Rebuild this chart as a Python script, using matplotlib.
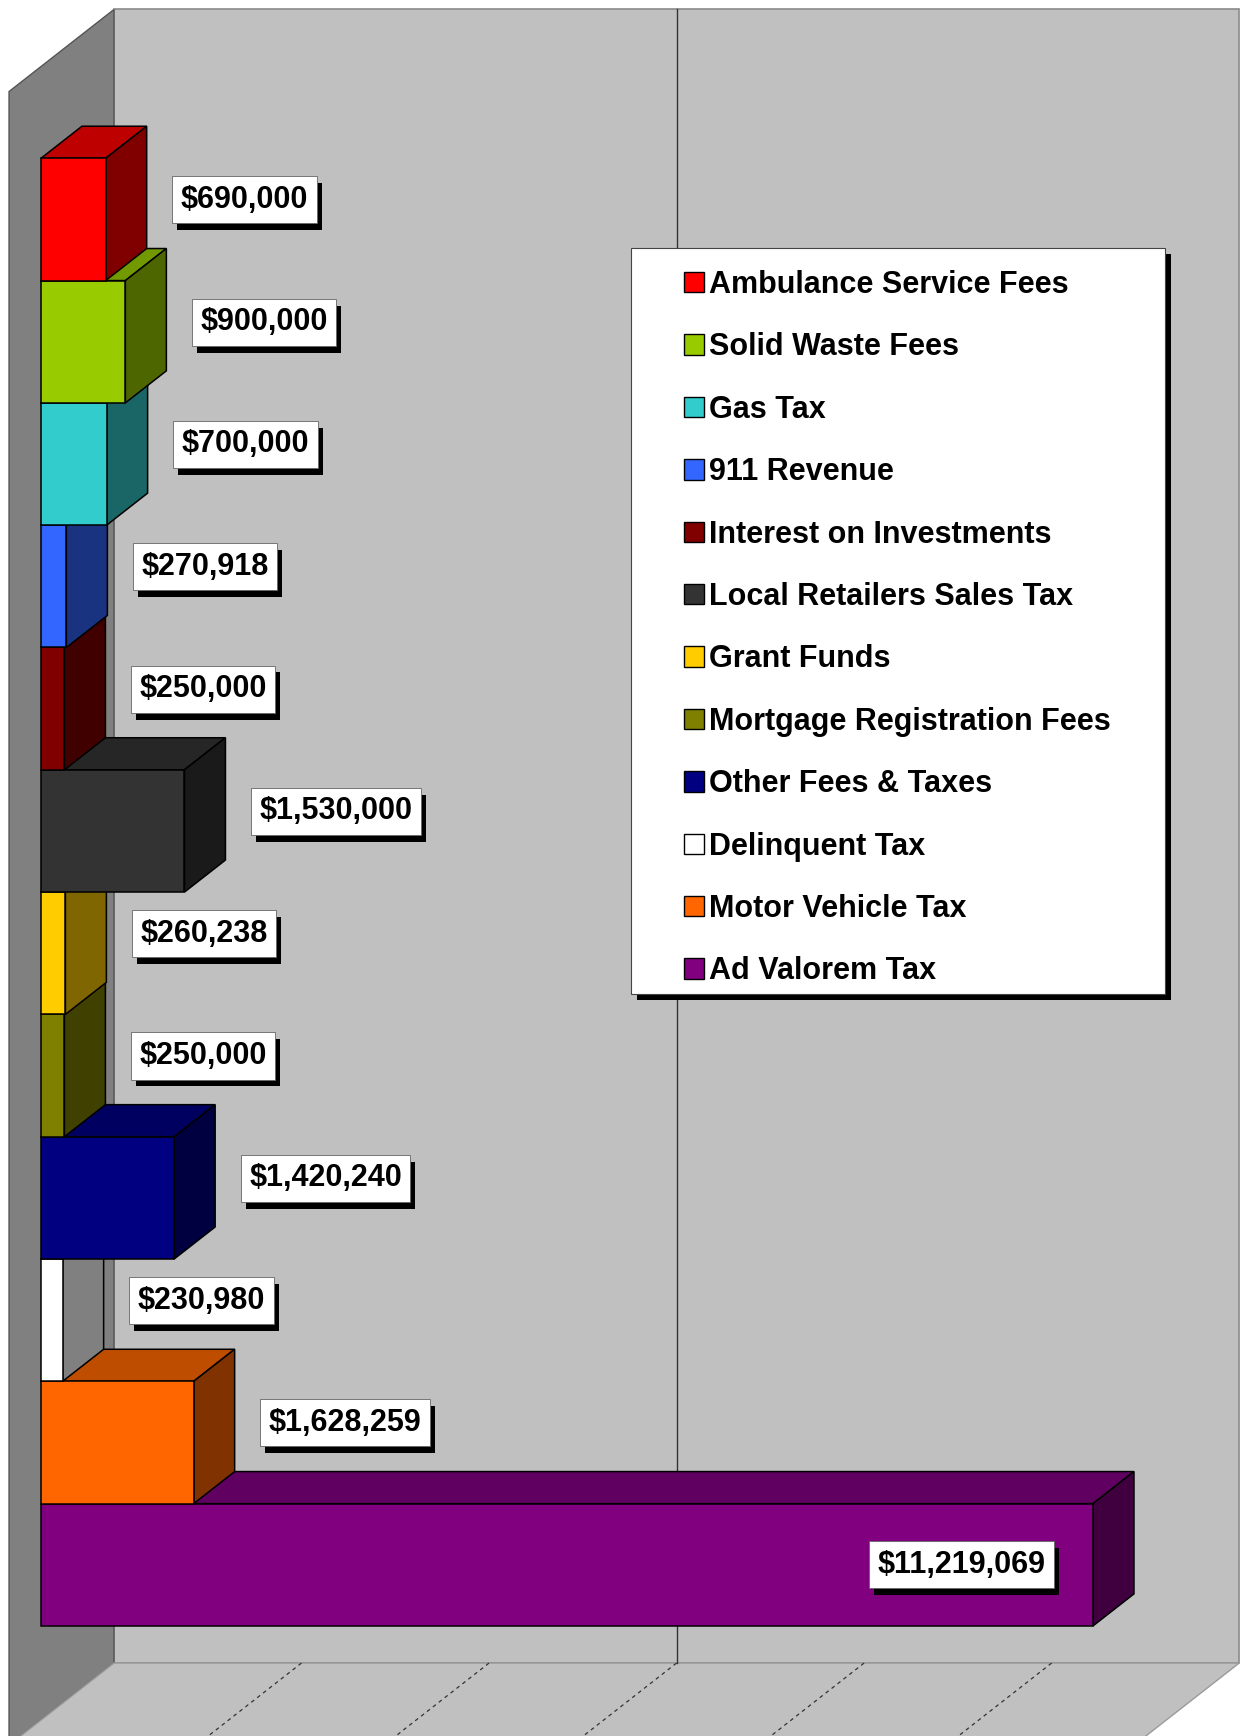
import numpy as np
import matplotlib.pyplot as plt
from matplotlib.colors import to_rgb
from matplotlib.patches import Polygon, Rectangle, Patch
from matplotlib import patheffects


# revenue sources, top to bottom
categories = [
    'Ambulance Service Fees',
    'Solid Waste Fees',
    'Gas Tax',
    '911 Revenue',
    'Interest on Investments',
    'Local Retailers Sales Tax',
    'Grant Funds',
    'Mortgage Registration Fees',
    'Other Fees & Taxes',
    'Delinquent Tax',
    'Motor Vehicle Tax',
    'Ad Valorem Tax',
]
values = [690000, 900000, 700000, 270918, 250000, 1530000,
          260238, 250000, 1420240, 230980, 1628259, 11219069]
bar_colors = ['#FF0000', '#99CC00', '#33CCCC', '#3366FF', '#800000', '#333333',
              '#FFCC00', '#808000', '#000080', '#FFFFFF', '#FF6600', '#800080']

X_MAX = 12000000
wall_grid = [6000000]
floor_grid = [2000000, 4000000, 6000000, 8000000, 10000000]

# fake 3d: a bar's depth moves it right (in dollars) and up (in category units)
DEPTH_X = 437000
DEPTH_Y = -0.262
D_BACK = 1.78     # back wall depth (bar depth = 1)
D_FRONT = -0.78   # front edge of floor / side wall
Y_TOP = -1.25
Y_FLOOR = 12.27

FONT = 'Liberation Sans'


def proj(v, y, d):
    return (v + d * DEPTH_X, y + d * DEPTH_Y)


def shade(color, k):
    r, g, b = to_rgb(color)
    return (r * k, g * k, b * k)


def main():
    fig = plt.figure(figsize=(12.41, 17.36), dpi=100)
    ax = fig.add_axes([0, 0, 1, 1])
    ax.set_xlim(-437250, 12797500)
    ax.set_ylim(12.40, -1.794)
    ax.axis('off')

    # walls and floor
    back = [proj(0, Y_TOP, D_BACK), proj(X_MAX, Y_TOP, D_BACK),
            proj(X_MAX, Y_FLOOR, D_BACK), proj(0, Y_FLOOR, D_BACK)]
    side = [proj(0, Y_TOP, D_FRONT), proj(0, Y_TOP, D_BACK),
            proj(0, Y_FLOOR, D_BACK), proj(0, Y_FLOOR, D_FRONT)]
    floor = [proj(0, Y_FLOOR, D_BACK), proj(X_MAX, Y_FLOOR, D_BACK),
             proj(X_MAX, Y_FLOOR, D_FRONT), proj(0, Y_FLOOR, D_FRONT)]
    ax.add_patch(Polygon(back, closed=True, fc='#C0C0C0', ec='#8a8a8a', lw=1.2, zorder=1))
    ax.add_patch(Polygon(side, closed=True, fc='#808080', ec='#555555', lw=1.0, zorder=1))
    ax.add_patch(Polygon(floor, closed=True, fc='#C0C0C0', ec='#9a9a9a', lw=1.0, zorder=1))

    for v in wall_grid:
        (x0, y0), (x1, y1) = proj(v, Y_TOP, D_BACK), proj(v, Y_FLOOR, D_BACK)
        ax.plot([x0, x1], [y0, y1], color='#333333', lw=1.0, zorder=2)
    for v in floor_grid:
        (x0, y0), (x1, y1) = proj(v, Y_FLOOR, D_BACK), proj(v, Y_FLOOR, D_FRONT)
        ax.plot([x0, x1], [y0, y1], color='#333333', lw=0.9, ls=(0, (3, 3)), zorder=2)

    # bars: painted bottom to top so upper bars hide lower top faces
    n = len(values)
    ypos = np.arange(n)
    bars = ax.barh(ypos, values, height=1.0, left=0, color=bar_colors,
                   edgecolor='black', linewidth=1.1)
    for i, (v, c, rect) in enumerate(zip(values, bar_colors, bars)):
        z = 10 + (n - i) * 3
        t, b = i - 0.5, i + 0.5
        top = [proj(0, t, 0), proj(v, t, 0), proj(v, t, 1), proj(0, t, 1)]
        sidef = [proj(v, t, 0), proj(v, b, 0), proj(v, b, 1), proj(v, t, 1)]
        ax.add_patch(Polygon(top, closed=True, fc=shade(c, 0.75), ec='black', lw=1.1, zorder=z))
        ax.add_patch(Polygon(sidef, closed=True, fc=shade(c, 0.5), ec='black', lw=1.1, zorder=z + 1))
        rect.set_zorder(z + 2)

    # value labels in white boxes with a black drop shadow
    shadow = [patheffects.SimplePatchShadow(offset=(3.6, -5), shadow_rgbFace='black', alpha=1.0),
              patheffects.Normal()]
    for i, v in enumerate(values):
        txt = f'${v:,}'
        if v > 0.8 * X_MAX:
            xy, off, ha = (v, i), (-34.5, 0), 'right'
        else:
            xy, off, ha = (v + DEPTH_X, i - 0.16), (24.5, 0), 'left'
        t = ax.annotate(txt, xy=xy, xytext=off, xycoords='data', textcoords='offset points',
                        ha=ha, va='center', fontsize=22, fontweight='bold', family=FONT,
                        color='black', zorder=71,
                        bbox=dict(boxstyle='square,pad=0.28', fc='white', ec='#666666', lw=0.6))
        t.get_bbox_patch().set_path_effects(shadow)

    # legend box with shadow
    lx, ly, lw, lh = 631 / 1241, 1 - 994 / 1736, 534 / 1241, 746 / 1736
    ax.add_patch(Rectangle((lx + 0.0048, ly - 0.0035), lw, lh, transform=ax.transAxes,
                           fc='black', ec='none', zorder=80))
    ax.add_patch(Rectangle((lx, ly), lw, lh, transform=ax.transAxes,
                           fc='white', ec='#444444', lw=0.8, zorder=81))
    handles = [Patch(facecolor=c, edgecolor='black', linewidth=1.0) for c in bar_colors]
    leg = ax.legend(handles, categories, loc='upper left',
                    bbox_to_anchor=(684 / 1241, 1 - 270 / 1736),
                    frameon=False, borderpad=0, borderaxespad=0,
                    handlelength=0.65, handleheight=0.65, handletextpad=0.18,
                    labelspacing=1.06,
                    prop={'family': FONT, 'weight': 'bold', 'size': 22})
    leg.set_zorder(90)

    fig.savefig('out.png', dpi=100)


if __name__ == '__main__':
    main()
